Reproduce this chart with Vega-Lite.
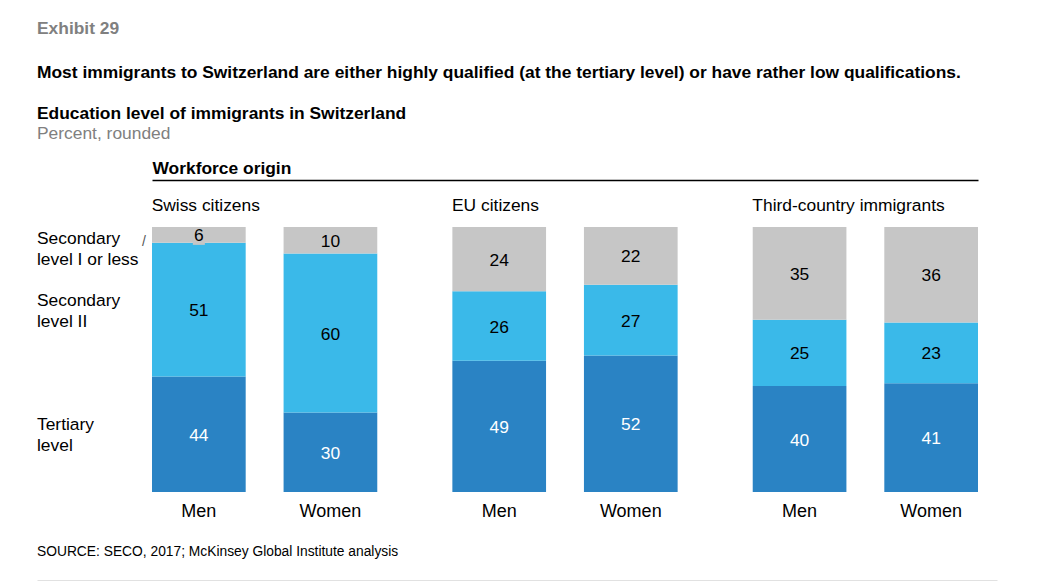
{
  "$schema": "https://vega.github.io/schema/vega-lite/v6.json",
  "padding": {"left": 37, "top": 20, "right": 10, "bottom": 0},
  "background": "white",
  "config": {"font": "Liberation Sans", "view": {"stroke": null}},
  "title": {"text": "Exhibit 29", "subtitle": "Most immigrants to Switzerland are either highly qualified (at the tertiary level) or have rather low qualifications.", "anchor": "start", "font": "Liberation Sans", "fontSize": 17.4, "fontWeight": "bold", "color": "#808080", "subtitleFont": "Liberation Sans", "subtitleFontSize": 17.4, "subtitleFontWeight": "bold", "subtitleColor": "#000000", "subtitlePadding": 26.5, "offset": 23},
  "data": {"values": [
    {"group": "Swiss citizens", "gender": "Men", "level": "Tertiary level", "value": 44},
    {"group": "Swiss citizens", "gender": "Men", "level": "Secondary level II", "value": 51},
    {"group": "Swiss citizens", "gender": "Men", "level": "Secondary level I or less", "value": 6},
    {"group": "Swiss citizens", "gender": "Women", "level": "Tertiary level", "value": 30},
    {"group": "Swiss citizens", "gender": "Women", "level": "Secondary level II", "value": 60},
    {"group": "Swiss citizens", "gender": "Women", "level": "Secondary level I or less", "value": 10},
    {"group": "EU citizens", "gender": "Men", "level": "Tertiary level", "value": 49},
    {"group": "EU citizens", "gender": "Men", "level": "Secondary level II", "value": 26},
    {"group": "EU citizens", "gender": "Men", "level": "Secondary level I or less", "value": 24},
    {"group": "EU citizens", "gender": "Women", "level": "Tertiary level", "value": 52},
    {"group": "EU citizens", "gender": "Women", "level": "Secondary level II", "value": 27},
    {"group": "EU citizens", "gender": "Women", "level": "Secondary level I or less", "value": 22},
    {"group": "Third-country immigrants", "gender": "Men", "level": "Tertiary level", "value": 40},
    {"group": "Third-country immigrants", "gender": "Men", "level": "Secondary level II", "value": 25},
    {"group": "Third-country immigrants", "gender": "Men", "level": "Secondary level I or less", "value": 35},
    {"group": "Third-country immigrants", "gender": "Women", "level": "Tertiary level", "value": 41},
    {"group": "Third-country immigrants", "gender": "Women", "level": "Secondary level II", "value": 23},
    {"group": "Third-country immigrants", "gender": "Women", "level": "Secondary level I or less", "value": 36}
  ]},
  "spacing": 24,
  "vconcat": [
    {
      "title": {"text": "Education level of immigrants in Switzerland", "subtitle": "Percent, rounded", "anchor": "start", "font": "Liberation Sans", "fontSize": 17.4, "fontWeight": "bold", "color": "#000000", "subtitleFont": "Liberation Sans", "subtitleFontSize": 17.4, "subtitleColor": "#808080", "subtitlePadding": 3, "offset": 17},
      "spacing": 0,
      "transform": [
        {"calculate": "indexof(['Tertiary level','Secondary level II','Secondary level I or less'], datum.level)", "as": "ord"},
        {"stack": "value", "groupby": ["group", "gender"], "sort": [{"field": "ord", "order": "ascending"}], "offset": "normalize", "as": ["y0", "y1"]},
        {"calculate": "(datum.y0 + datum.y1) / 2", "as": "mid"},
        {"calculate": "replace(datum.level, ' level', '\\nlevel')", "as": "lab"}
      ],
      "hconcat": [
        {
          "width": 114,
          "height": 265,
          "transform": [{"filter": "datum.group === 'Swiss citizens' && datum.gender === 'Men'"}],
          "layer": [
            {
              "transform": [{"filter": "datum.level !== 'Secondary level I or less'"}],
              "mark": {"type": "text", "fontSize": 17.4, "align": "left", "baseline": "middle", "dy": -9, "lineBreak": "\n", "lineHeight": 21, "color": "#000000"},
              "encoding": {
                "x": {"datum": 0, "type": "quantitative", "scale": {"domain": [0, 1], "nice": false}, "axis": null},
                "y": {"field": "mid", "type": "quantitative", "scale": {"domain": [0, 1], "nice": false}, "axis": null},
                "text": {"field": "lab", "type": "nominal"}
              }
            },
            {
              "transform": [{"filter": "datum.level === 'Secondary level I or less'"}],
              "mark": {"type": "text", "fontSize": 17.4, "align": "left", "baseline": "middle", "dy": 4, "lineBreak": "\n", "lineHeight": 21, "color": "#000000"},
              "encoding": {
                "x": {"datum": 0, "type": "quantitative"},
                "y": {"field": "mid", "type": "quantitative"},
                "text": {"field": "lab", "type": "nominal"}
              }
            },
            {
              "transform": [{"filter": "datum.level === 'Secondary level I or less'"}],
              "mark": {"type": "text", "fontSize": 14, "align": "center", "baseline": "middle", "dx": -7, "dy": 7, "color": "#555555", "text": "/"},
              "encoding": {
                "x": {"datum": 1, "type": "quantitative"},
                "y": {"field": "mid", "type": "quantitative"}
              }
            }
          ]
        },
        {
          "width": 826,
          "height": 265,
          "layer": [
            {
              "mark": {"type": "bar"},
              "encoding": {
                "x": {"field": "group", "type": "nominal", "sort": ["Swiss citizens", "EU citizens", "Third-country immigrants"],
                  "scale": {"paddingInner": 0.25, "paddingOuter": 0},
                  "axis": {"orient": "top", "offset": 47, "title": "Workforce origin", "titleAnchor": "start", "titleFont": "Liberation Sans", "titleFontSize": 17.4, "titleFontWeight": "bold", "titleColor": "#000000", "titlePadding": 2.5,
                    "domainColor": "#000000", "domainWidth": 1.5, "ticks": false, "tickSize": 0,
                    "labelAlign": "left", "labelOffset": -113, "labelPadding": -25, "labelBaseline": "middle", "labelFont": "Liberation Sans", "labelFontSize": 17.4, "labelColor": "#000000", "labelAngle": 0, "labelLimit": 400}},
                "xOffset": {"field": "gender", "type": "nominal", "sort": ["Men", "Women"], "scale": {"paddingInner": 0.288, "paddingOuter": 0}},
                "y": {"field": "y0", "type": "quantitative", "scale": {"domain": [0, 1], "nice": false}, "axis": null},
                "y2": {"field": "y1"},
                "color": {"field": "level", "type": "nominal", "scale": {"domain": ["Tertiary level", "Secondary level II", "Secondary level I or less"], "range": ["#2a83c4", "#3ab9e9", "#c6c6c6"]}, "legend": null}
              }
            },
            {
              "transform": [{"filter": "datum.value < 8"}],
              "mark": {"type": "point", "shape": "M-0.6,-0.7L0.6,-0.7L0.6,1L-0.6,1Z", "size": 400, "filled": true, "opacity": 1, "color": "#c6c6c6", "strokeWidth": 0},
              "encoding": {
                "x": {"field": "group", "type": "nominal", "sort": ["Swiss citizens", "EU citizens", "Third-country immigrants"]},
                "xOffset": {"field": "gender", "type": "nominal", "sort": ["Men", "Women"]},
                "y": {"field": "mid", "type": "quantitative"}
              }
            },
            {
              "mark": {"type": "text", "fontSize": 17.4, "baseline": "middle", "dy": 1.5},
              "encoding": {
                "x": {"field": "group", "type": "nominal", "sort": ["Swiss citizens", "EU citizens", "Third-country immigrants"]},
                "xOffset": {"field": "gender", "type": "nominal", "sort": ["Men", "Women"]},
                "y": {"field": "mid", "type": "quantitative"},
                "text": {"field": "value", "type": "quantitative"},
                "color": {"condition": {"test": "datum.level === 'Tertiary level'", "value": "#ffffff"}, "value": "#000000"}
              }
            },
            {
              "transform": [{"filter": "datum.level === 'Tertiary level'"}],
              "mark": {"type": "text", "fontSize": 18, "baseline": "middle", "dy": 20, "color": "#000000"},
              "encoding": {
                "x": {"field": "group", "type": "nominal", "sort": ["Swiss citizens", "EU citizens", "Third-country immigrants"]},
                "xOffset": {"field": "gender", "type": "nominal", "sort": ["Men", "Women"]},
                "y": {"datum": 0, "type": "quantitative"},
                "text": {"field": "gender", "type": "nominal"}
              }
            }
          ]
        }
      ]
    },
    {
      "title": {"text": "SOURCE:  SECO, 2017; McKinsey Global Institute analysis", "anchor": "start", "font": "Liberation Sans", "fontSize": 13.8, "fontWeight": "normal", "color": "#000000", "offset": 21},
      "width": 960,
      "height": 1,
      "data": {"values": [{}]},
      "mark": {"type": "point", "opacity": 0, "size": 0},
      "encoding": {
        "x": {"datum": 0.5, "type": "quantitative", "scale": {"domain": [0, 1]},
          "axis": {"orient": "bottom", "domain": true, "domainColor": "#888888", "domainWidth": 1.5, "ticks": false, "labels": false, "grid": false, "title": null}}
      }
    }
  ]
}
